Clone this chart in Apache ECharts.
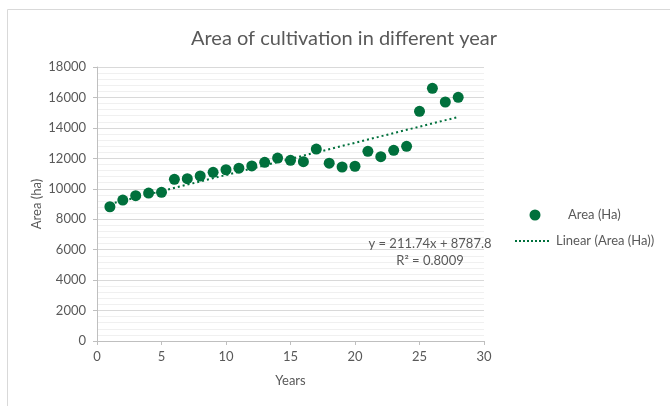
<!DOCTYPE html>
<html>
<head>
<meta charset="utf-8">
<script src="https://cdn.jsdelivr.net/npm/echarts@6/dist/echarts.min.js"></script>
<style>html,body{margin:0;padding:0;background:#fff}#c{width:670px;height:406px}</style>
</head>
<body>
<div id="c"></div>
<script>
const years = [1,2,3,4,5,6,7,8,9,10,11,12,13,14,15,16,17,18,19,20,21,22,23,24,25,26,27,28];
const area = [8820,9260,9550,9720,9770,10620,10660,10840,11080,11250,11350,11500,11740,12020,11870,11780,12610,11680,11430,11480,12460,12110,12530,12790,15090,16600,15700,16010];
const trendSlope = 211.74;
const trendIntercept = 8787.8;
const trendRange = [1, 28];

const FONT = 'Lato';
const TXT = '#595959';
const GREEN = '#00703c';

const trendData = trendRange.map(x => [x, trendSlope * x + trendIntercept]);

const chart = echarts.init(document.getElementById('c'));
chart.setOption({
  animation: false,
  textStyle: { fontFamily: FONT, color: TXT },
  title: {
    text: 'Area of cultivation in different year',
    left: 339, top: 24, textAlign: 'center',
    textStyle: { fontFamily: FONT, fontSize: 20, fontWeight: 'normal', color: TXT }
  },
  graphic: [
    { type: 'rect', shape: { x: 7.5, y: 9.5, width: 700, height: 420 },
      style: { fill: 'none', stroke: '#d9d9d9', lineWidth: 1 }, silent: true, z: -1 },
    { type: 'text', x: 430, y: 244, z: 101, style: { text: 'y = 211.74x + 8787.8', fill: TXT, font: '13px ' + FONT, textAlign: 'center', textVerticalAlign: 'middle' } },
    { type: 'text', x: 430, y: 261, z: 101, style: { text: 'R² = 0.8009', fill: TXT, font: '13px ' + FONT, textAlign: 'center', textVerticalAlign: 'middle' } },
    { type: 'circle', shape: { cx: 535, cy: 215, r: 5.5 }, style: { fill: GREEN }, z: 101 },
    { type: 'text', x: 568, y: 215, z: 101, style: { text: 'Area (Ha)', fill: TXT, font: '13px ' + FONT, textVerticalAlign: 'middle' } },
    { type: 'line', shape: { x1: 515, y1: 241, x2: 550, y2: 241 }, style: { stroke: GREEN, lineWidth: 2, lineDash: [2, 2] }, z: 101 },
    { type: 'text', x: 556, y: 241, z: 101, style: { text: 'Linear (Area (Ha))', fill: TXT, font: '13px ' + FONT, textVerticalAlign: 'middle' } }
  ],
  grid: { left: 97, right: 186, top: 67, bottom: 65 },
  xAxis: {
    type: 'value', min: 0, max: 30, interval: 5,
    name: 'Years', nameLocation: 'middle', nameGap: 33, nameMoveOverlap: false,
    nameTextStyle: { fontFamily: FONT, fontSize: 13, color: TXT },
    axisLine: { show: true, lineStyle: { color: '#bfbfbf' } },
    axisTick: { show: true, length: 4, lineStyle: { color: '#bfbfbf' } },
    axisLabel: { margin: 9, fontFamily: FONT, fontSize: 13, color: TXT,
      formatter: v => String(v) },
    splitLine: { show: false }
  },
  yAxis: {
    type: 'value', min: 0, max: 18000, interval: 2000,
    name: 'Area (ha)', nameLocation: 'middle', nameGap: 54, nameMoveOverlap: false,
    nameTextStyle: { fontFamily: FONT, fontSize: 13, color: TXT },
    axisLine: { show: true, lineStyle: { color: '#bfbfbf' } },
    axisTick: { show: true, length: 4, lineStyle: { color: '#bfbfbf' } },
    axisLabel: { margin: 11, fontFamily: FONT, fontSize: 13, color: TXT,
      formatter: v => String(v) },
    splitLine: { show: true, lineStyle: { color: '#d9d9d9' } },
    minorTick: { show: false, splitNumber: 5 },
    minorSplitLine: { show: true, lineStyle: { color: '#f0f0f0' } }
  },
  series: [
    {
      name: 'Linear (Area (Ha))', type: 'line', data: trendData,
      symbol: 'none', z: 1,
      lineStyle: { color: GREEN, width: 2, type: [2, 3] },
      itemStyle: { color: GREEN }
    },
    {
      name: 'Area (Ha)', type: 'scatter', symbolSize: 11, z: 2,
      data: years.map((x, i) => [x, area[i]]),
      itemStyle: { color: GREEN, opacity: 1 }
    }
  ]
});
</script>
</body>
</html>
